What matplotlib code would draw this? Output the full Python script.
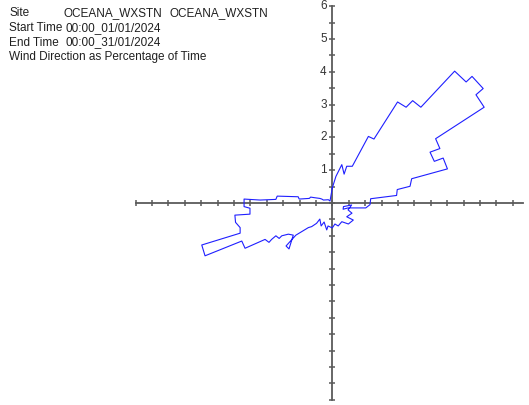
import numpy as np
import matplotlib
matplotlib.use("Agg")
import matplotlib.pyplot as plt

plt.rcParams['font.family'] = ['Liberation Sans', 'DejaVu Sans']

# wind rose outline, east / north components in % of time
east = [0.00, 0.11, 0.29, 0.36, 0.44, 0.61, 1.10, 1.27, 1.99, 2.25, 2.45, 2.70,
        3.73, 4.08, 4.26, 4.60, 4.38, 4.63, 3.15, 3.28, 2.98, 3.11, 3.38, 3.51,
        2.42, 2.37, 1.98, 1.96, 1.17, 1.15, 1.02, 0.48, 0.33,
        0.34, 0.59, 0.48, 0.60, 0.44, 0.64, 0.49, 0.29, 0.18, 0.08, 0.00,
        -0.13, -0.17, -0.25, -0.34, -0.38,
        -0.48, -0.63, -0.73, -1.11, -1.41, -1.32, -1.19, -1.34, -1.54, -1.62,
        -1.72, -1.85, -1.93, -2.05, -2.66, -2.76, -3.88, -3.98, -2.81, -2.81,
        -2.95, -2.97, -2.51, -2.51, -2.69, -2.69, -2.20, -1.72, -1.68, -1.04,
        -1.01, -0.70, -0.66, -0.53, -0.38, -0.32, -0.27, -0.12, -0.07, 0.00]
north = [0.46, 0.81, 1.17, 0.88, 1.12, 1.12, 2.03, 1.95, 3.08, 2.92, 3.12, 2.92,
         4.02, 3.69, 3.86, 3.49, 3.30, 2.92, 1.96, 1.66, 1.55, 1.27, 1.37, 1.04,
         0.74, 0.51, 0.41, 0.23, 0.13, -0.05, -0.15, -0.15, -0.19,
         -0.11, -0.06, -0.21, -0.31, -0.42, -0.52, -0.64, -0.57, -0.70, -0.64, -0.76,
         -0.70, -0.82, -0.58, -0.70, -0.49,
         -0.62, -0.72, -0.75, -0.98, -1.31, -1.40, -0.98, -0.95, -1.00, -1.08,
         -1.00, -1.11, -1.20, -1.11, -1.38, -1.16, -1.61, -1.28, -0.92, -0.75,
         -0.59, -0.37, -0.34, -0.16, -0.11, 0.12, 0.09, 0.11, 0.21, 0.19,
         0.12, 0.14, 0.18, 0.16, 0.14, 0.12, 0.09, 0.10, 0.06, 0.46]

y_labels = ['1', '2', '3', '4', '5', '6']

header = [("Site", "OCEANA_WXSTN", "OCEANA_WXSTN"),
          ("Start Time", "00:00_01/01/2024", None),
          ("End Time", "00:00_31/01/2024", None),
          ("Wind Direction as Percentage of Time", None, None)]

W, H = 529, 405
fig = plt.figure(figsize=(W / 100, H / 100), dpi=100)
ax = fig.add_axes([0, 0, 1, 1])
ax.set_xlim(-332.3 / 32.8, (W - 332.3) / 32.8)
ax.set_ylim((203 - H) / 32.8, 203 / 32.8)
ax.axis('off')

axis_col = '#5a5a5a'
ax.plot([-6, 5.8], [0, 0], color=axis_col, lw=1.3, zorder=1)
ax.plot([0, 0], [-6, 6], color=axis_col, lw=1.3, zorder=1)

ticks = np.arange(-6, 6.01, 0.5)
xt = ticks[ticks <= 5.8]
ax.plot(xt, np.zeros_like(xt), ls='none', marker='|', ms=4.5, mew=1.1, color=axis_col)
ax.plot(np.zeros_like(ticks), ticks, ls='none', marker='_', ms=4.5, mew=1.1, color=axis_col)

for i, lab in enumerate(y_labels):
    ax.text(-0.17, i + 1, lab, ha='right', va='center', fontsize=8.5, color='#333333')

# closed outline
ax.plot(east + east[:1], north + north[:1], color='#1f1fff', lw=0.8, zorder=3)

rows_y = [16.5, 31, 45.5, 60]
fs = 8.5
for (a, b, c), yy in zip(header, rows_y):
    fy = 1 - yy / H
    fig.text(9 / W, fy, a, fontsize=fs, va='baseline', color='#202020')
    if b is not None:
        bx = 63 if c is not None else 65
        fig.text(bx / W, fy, b, fontsize=fs, va='baseline', color='#202020')
    if c is not None:
        fig.text(170 / W, fy, c, fontsize=fs, va='baseline', color='#202020')

fig.savefig('out.png', dpi=100)
